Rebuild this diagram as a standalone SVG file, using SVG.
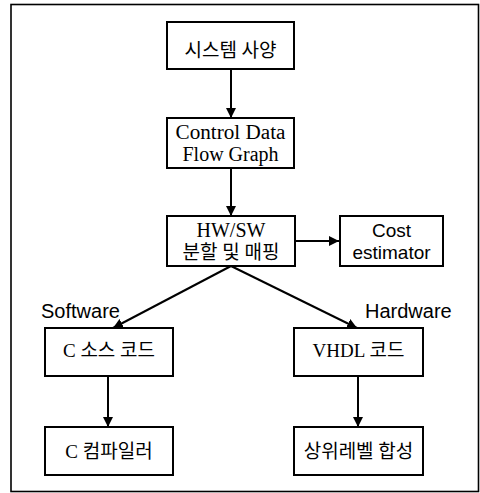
<svg xmlns="http://www.w3.org/2000/svg" width="480" height="493" viewBox="0 0 480 493">
  <style>
    .box { fill: #fff; stroke: #000; stroke-width: 2; }
    .frame { fill: none; stroke: #000; stroke-width: 1.6; }
    .t { font-family: "Liberation Serif", "Noto Sans CJK KR", serif; font-size: 20px; fill: #000; text-anchor: middle; }
    .k { font-family: "Liberation Serif", "Noto Sans CJK KR", serif; font-size: 19px; fill: #000; text-anchor: middle; }
    .s { font-family: "Liberation Sans", Arial, sans-serif; font-size: 20px; fill: #000; }
    .e { font-family: "Liberation Sans", Arial, sans-serif; font-size: 19px; fill: #000; text-anchor: middle; }
    .edge { stroke: #000; stroke-width: 2; fill: none; marker-end: url(#arrow); }
  </style>
  <defs>
    <marker id="arrow" viewBox="0 0 10 10" refX="10" refY="5" markerWidth="5" markerHeight="5" markerUnits="strokeWidth" orient="auto">
      <path d="M0,0 L10,5 L0,10 Z" fill="#000"/>
    </marker>
  </defs>

  <rect width="480" height="493" fill="#fff"/>
  <rect class="frame" x="11" y="4.5" width="467.5" height="487"/>

  <g id="connectors">
    <line class="edge" x1="231" y1="69" x2="231" y2="118"/>
    <line class="edge" x1="231" y1="168" x2="231" y2="216"/>
    <line class="edge" x1="295" y1="241" x2="339" y2="241"/>
    <line class="edge" x1="231" y1="266" x2="113" y2="328"/>
    <line class="edge" x1="231" y1="266" x2="357" y2="328"/>
    <line class="edge" x1="108" y1="376" x2="108" y2="427"/>
    <line class="edge" x1="358" y1="376" x2="358" y2="427"/>
  </g>

  <g id="spec">
    <rect class="box" x="167" y="22" width="127" height="47"/>
    <text class="k" x="230.5" y="57">시스템 사양</text>
  </g>

  <g id="cdfg">
    <rect class="box" x="167" y="118" width="127" height="50"/>
    <text class="t" x="230.5" y="139" font-size="19" textLength="110" lengthAdjust="spacingAndGlyphs">Control Data</text>
    <text class="t" x="230.5" y="161" font-size="19" textLength="96" lengthAdjust="spacingAndGlyphs">Flow Graph</text>
  </g>

  <g id="partition">
    <rect class="box" x="167" y="216" width="128" height="50"/>
    <text class="t" x="231" y="237">HW/SW</text>
    <text class="k" x="231" y="259">분할 및 매핑</text>
  </g>

  <g id="cost">
    <rect class="box" x="340" y="216" width="103" height="50"/>
    <text class="e" x="391.5" y="237">Cost</text>
    <text class="e" x="391.5" y="259">estimator</text>
  </g>

  <text class="s" x="41" y="318">Software</text>
  <text class="s" x="365" y="318">Hardware</text>

  <g id="csource">
    <rect class="box" x="45" y="328" width="128" height="48"/>
    <text class="k" x="109" y="357">C 소스 코드</text>
  </g>

  <g id="vhdl">
    <rect class="box" x="294" y="328" width="129" height="48"/>
    <text class="k" x="358.5" y="357">VHDL 코드</text>
  </g>

  <g id="ccompiler">
    <rect class="box" x="45" y="427" width="128" height="48"/>
    <text class="k" x="109" y="458">C 컴파일러</text>
  </g>

  <g id="hls">
    <rect class="box" x="294" y="427" width="129" height="48"/>
    <text class="k" x="358.5" y="458">상위레벨 합성</text>
  </g>
</svg>
